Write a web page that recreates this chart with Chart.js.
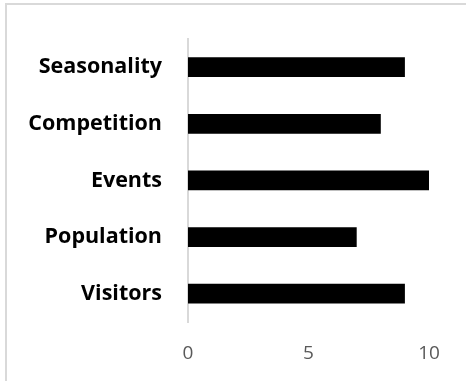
<!DOCTYPE html>
<html>
<head>
<meta charset="utf-8">
<script src="https://cdn.jsdelivr.net/npm/chart.js@4"></script>
<style>
  html, body { margin: 0; padding: 0; background: #fff; overflow: hidden; }
  #frame {
    position: absolute; left: 5px; top: 3px;
    width: 500px; height: 420px;
    border: 2px solid #d9d9d9;
  }
  #wrap { position: absolute; left: 0; top: 0; width: 466px; height: 381px; }
</style>
</head>
<body>
<div id="frame"></div>
<div id="wrap"><canvas id="chart"></canvas></div>
<script>
// Factor scores, listed top to bottom
const categories = ['Seasonality', 'Competition', 'Events', 'Population', 'Visitors'];
const scores = [9, 8, 10, 7, 9];
const axisMin = 0;
const axisMax = 10;
const axisStep = 5;

const ctx = document.getElementById('chart').getContext('2d');
new Chart(ctx, {
  type: 'bar',
  data: {
    labels: categories,
    datasets: [{
      data: scores,
      backgroundColor: '#000000',
      borderWidth: 0,
      barPercentage: 0.35,
      categoryPercentage: 1
    }]
  },
  options: {
    indexAxis: 'y',
    responsive: true,
    maintainAspectRatio: false,
    animation: false,
    layout: { padding: { top: 34, right: 37, left: 0, bottom: 0 } },
    plugins: {
      legend: { display: false },
      tooltip: { enabled: false }
    },
    scales: {
      x: {
        min: axisMin,
        max: axisMax,
        grid: { display: false, drawTicks: false },
        border: { display: false },
        ticks: {
          stepSize: axisStep,
          padding: 20,
          color: '#595959',
          font: { family: 'Open Sans', size: 19 }
        },
        afterFit: scale => { scale.height = 59; }
      },
      y: {
        grid: { display: false, drawTicks: false },
        border: { display: true, color: '#d9d9d9', width: 2 },
        ticks: {
          padding: 26,
          color: '#000000',
          font: { family: 'Open Sans', size: 21.5, weight: 'bold' }
        },
        afterFit: scale => { scale.width = 188; }
      }
    }
  }
});
</script>
</body>
</html>
